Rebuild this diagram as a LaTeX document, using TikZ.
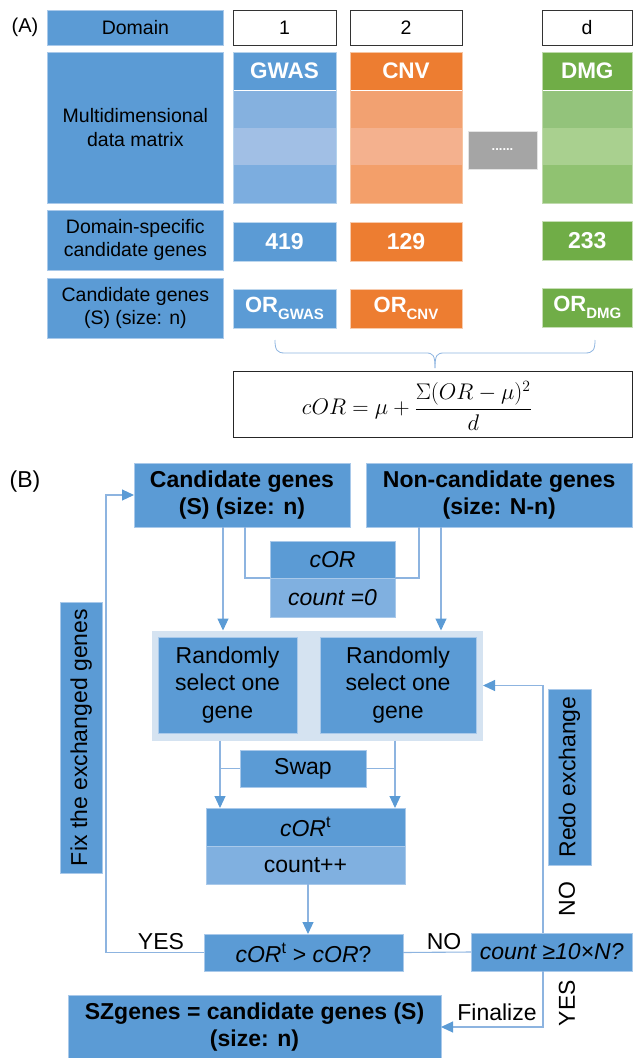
\documentclass[tikz,border=0pt]{standalone}
\usepackage{fontspec}
\setmainfont{Liberation Sans}
\usetikzlibrary{arrows.meta,calc}
\definecolor{myblue}{HTML}{5B9BD5}
\definecolor{myorange}{HTML}{ED7D31}
\definecolor{mygreen}{HTML}{70AD47}
\definecolor{mygrey}{HTML}{A5A5A5}
\definecolor{gwa}{HTML}{85B1DF}
\definecolor{gwb}{HTML}{A1BFE5}
\definecolor{gwc}{HTML}{7CADDF}
\definecolor{ora}{HTML}{F2A171}
\definecolor{orb}{HTML}{F4B18E}
\definecolor{orc}{HTML}{F39F6A}
\definecolor{gra}{HTML}{93C37B}
\definecolor{grb}{HTML}{A9D08F}
\definecolor{grc}{HTML}{90C271}
\definecolor{lightb}{HTML}{80B0E0}
\definecolor{bgc}{HTML}{D5E3F1}
\definecolor{linec}{HTML}{8DB4E0}
\definecolor{bord}{HTML}{A9C9EA}
\newcommand\mycol[8]{%
  \node[bx, fill=#5, draw=none, hd, minimum width=#2pt, minimum height=38pt] (#3) at (#1,52) {#4};
  \fill[#6] (#1,90) rectangle ++(#2,38);
  \fill[#7] (#1,128) rectangle ++(#2,37);
  \fill[#8] (#1,165) rectangle ++(#2,38);
  \draw[white, line width=1pt] (#1,90) -- ++(#2,0);
  \draw[#5!45!white, line width=0.6pt] (#1,52) rectangle ++(#2,151);
}
\begin{document}
\begin{tikzpicture}[x=1pt,y=-1pt,
  bx/.style={anchor=north west, inner sep=0pt, outer sep=0pt, draw=bord, line width=0.7pt, fill=myblue, align=center},
  fa/.style={font=\fontsize{19.5}{23.5}\selectfont},
  fb/.style={font=\fontsize{23}{27.6}\selectfont},
  hd/.style={text=white, font=\fontsize{22.5}{27}\selectfont\bfseries},
  lbl/.style={inner sep=0pt, font=\fontsize{23}{27.6}\selectfont},
  conn/.style={draw=linec, line width=1.1pt},
  arr/.style={conn, -{Triangle[length=12pt,width=11pt,color=myblue]}}]
\useasboundingbox (0,0) rectangle (633,1058);

% ---------------- (A) ----------------
\node[lbl, font=\fontsize{20}{24}\selectfont] (labA) at (25,27) {(A)};
\node[bx,fa,minimum width=175.5pt,minimum height=35pt] (dom) at (47.6,10) {Domain};
\node[bx,fa,fill=white,draw=black!80,minimum width=103pt,minimum height=35pt] (c1) at (233,10) {1};
\node[bx,fa,fill=white,draw=black!80,minimum width=112pt,minimum height=35pt] (c2) at (350,10) {2};
\node[bx,fa,fill=white,draw=black!80,minimum width=90pt,minimum height=35pt] (cd) at (542,10) {d};

\node[bx,fa,minimum width=175.5pt,minimum height=151pt] (multi) at (47.6,52) {Multidimensional\\data matrix};
\mycol{233}{103}{gwas}{GWAS}{myblue}{gwa}{gwb}{gwc}
\mycol{350}{112}{cnv}{CNV}{myorange}{ora}{orb}{orc}
\mycol{542}{90.5}{dmg}{DMG}{mygreen}{gra}{grb}{grc}
\node[bx, fill=mygrey, draw=white!70!mygrey, minimum width=69pt, minimum height=38pt, text=white, font=\fontsize{13}{13}\selectfont\bfseries] (dots) at (468,131) {......};

\node[bx,fa,minimum width=175.5pt,minimum height=60pt] (dsc) at (47.6,210) {Domain-specific\\candidate genes};
\node[bx,hd,font=\fontsize{23}{27}\selectfont\bfseries,draw=white!60!myblue,minimum width=103pt,minimum height=39pt] (n1) at (233,222) {419};
\node[bx,hd,font=\fontsize{23}{27}\selectfont\bfseries,fill=myorange,draw=white!60!myorange,minimum width=112pt,minimum height=39pt] (n2) at (350,222) {129};
\node[bx,hd,font=\fontsize{23}{27}\selectfont\bfseries,fill=mygreen,draw=white!60!mygreen,minimum width=90.5pt,minimum height=39pt] (n3) at (542,221) {233};

\node[bx,fa,minimum width=175.5pt,minimum height=60pt] (cgs) at (47.6,278) {Candidate genes\\(S) (size: n)};
\node[bx,hd,font=\fontsize{22}{27}\selectfont\bfseries,draw=white!60!myblue,minimum width=103pt,minimum height=39pt] (o1) at (233,289) {OR\raisebox{-0.3em}{\fontsize{15}{15}\selectfont GWAS}};
\node[bx,hd,font=\fontsize{22}{27}\selectfont\bfseries,fill=myorange,draw=white!60!myorange,minimum width=112pt,minimum height=39pt] (o2) at (350,289) {OR\raisebox{-0.3em}{\fontsize{15}{15}\selectfont CNV}};
\node[bx,hd,font=\fontsize{22}{27}\selectfont\bfseries,fill=mygreen,draw=white!60!mygreen,minimum width=90.5pt,minimum height=39pt] (o3) at (542,288) {OR\raisebox{-0.3em}{\fontsize{15}{15}\selectfont DMG}};

% brace
\draw[linec, line width=0.8pt] (275,340) .. controls (275,350) and (277,353) .. (285,353) -- (426,353)
  .. controls (433,353) and (435,355) .. (435,368);
\draw[linec, line width=0.8pt] (595,340) .. controls (595,350) and (593,353) .. (585,353) -- (444,353)
  .. controls (437,353) and (435,355) .. (435,368);

\node[bx, fill=white, draw=black!85, line width=1pt, minimum width=399.5pt, minimum height=66pt] (fbox) at (233.3,371) {};
\node[inner sep=0pt, scale=1.09, font=\fontsize{20.74}{25}\selectfont] (form) at (417,405.5) {$\displaystyle cOR=\mu+\frac{\Sigma(OR-\mu)^2}{d}$};

% ---------------- (B) ----------------
\node[lbl] (labB) at (25,482) {(B)};
\node[bx,fb,font=\fontsize{23}{27.6}\selectfont\bfseries,minimum width=216pt,minimum height=64pt] (cand) at (134,463) {Candidate genes\\(S) (size: n)};
\node[bx,fb,font=\fontsize{23}{27.6}\selectfont\bfseries,minimum width=266.5pt,minimum height=64pt] (noncand) at (366,463) {Non-candidate genes\\(size: N-n)};

\node[bx,fb,minimum width=125pt,minimum height=37pt] (cor) at (270,541) {\itshape cOR};
\node[bx,fb,fill=lightb,minimum width=125pt,minimum height=39pt] (cnt0) at (270,578) {\itshape count =0};

\node[bx, fill=bgc, draw=none, minimum width=331pt, minimum height=110pt] (bg) at (152,630.5) {};
\node[bx,fb,minimum width=139pt,minimum height=96pt] (r1) at (158,637) {Randomly\\select one\\gene};
\node[bx,fb,minimum width=156pt,minimum height=96pt] (r2) at (320,637) {Randomly\\select one\\gene};

\node[bx,fb,minimum width=126pt,minimum height=37pt] (swap) at (240,750) {Swap};
\node[bx,fb,minimum width=199pt,minimum height=38pt] (cort) at (206,808) {\textit{cOR}\textsuperscript{t}};
\node[bx,fb,fill=lightb,minimum width=199pt,minimum height=38pt] (cntpp) at (206,846) {count++};
\node[bx,fb,minimum width=199pt,minimum height=37pt] (cmp) at (204,934) {\textit{cOR}\textsuperscript{t} > \textit{cOR}?};
\node[bx,fb,minimum width=161.5pt,minimum height=38pt] (cnt) at (471,933) {\textit{count ≥10×N?}};
\node[bx,fb,font=\fontsize{23}{27.6}\selectfont\bfseries,minimum width=373pt,minimum height=64pt] (sz) at (68,995) {SZgenes = candidate genes (S)\\(size: n)};

\node[fb, fill=myblue, draw=bord, line width=0.7pt, inner sep=0pt, rotate=90, minimum width=271pt, minimum height=41.5pt] (fix) at (81.25,737.5) {Fix the exchanged genes};
\node[fb, fill=myblue, draw=bord, line width=0.7pt, inner sep=0pt, rotate=90, minimum width=176pt, minimum height=43pt] (redo) at (569.5,777) {Redo exchange};

% labels
\node[lbl] (yes1) at (161,942) {YES};
\node[lbl] (no1) at (444,942) {NO};
\node[lbl, rotate=90] (no2) at (567,899) {NO};
\node[lbl, rotate=90] (yes2) at (567,1003) {YES};
\node[lbl] (fin) at (497,1012) {Finalize};

% x / y reference coordinates
\coordinate (xa) at (223,0);
\coordinate (xb) at (441,0);
\coordinate (xc) at (245,0);
\coordinate (xd) at (419,0);
\coordinate (xe) at (220,0);
\coordinate (xf) at (395,0);
\coordinate (xg) at (308,0);
\coordinate (xl) at (106,0);
\coordinate (xr) at (543,0);

% connectors
\draw[arr] (cand.south -| xa) -- (bg.north -| xa);
\draw[arr] (noncand.south -| xb) -- (bg.north -| xb);
\draw[conn] (cand.south -| xc) |- (cor.south west);
\draw[conn] (noncand.south -| xd) |- (cor.south east);
\draw[arr] (bg.south -| xe) -- (cort.north -| xe);
\draw[arr] (bg.south -| xf) -- (cort.north -| xf);
\draw[conn] (swap.west) -- (swap.west -| xe);
\draw[conn] (swap.east) -- (swap.east -| xf);
\draw[arr] (cntpp.south -| xg) -- (cmp.north -| xg);
\draw[arr] (cmp.west) -| (cand.west -| xl) -- (cand.west);
\draw[conn] (cmp.east) -- (cnt.west);
\draw[arr] (cnt.north -| xr) |- (bg.east);
\draw[arr] (cnt.south -| xr) |- (sz.east);
\end{tikzpicture}
\end{document}
